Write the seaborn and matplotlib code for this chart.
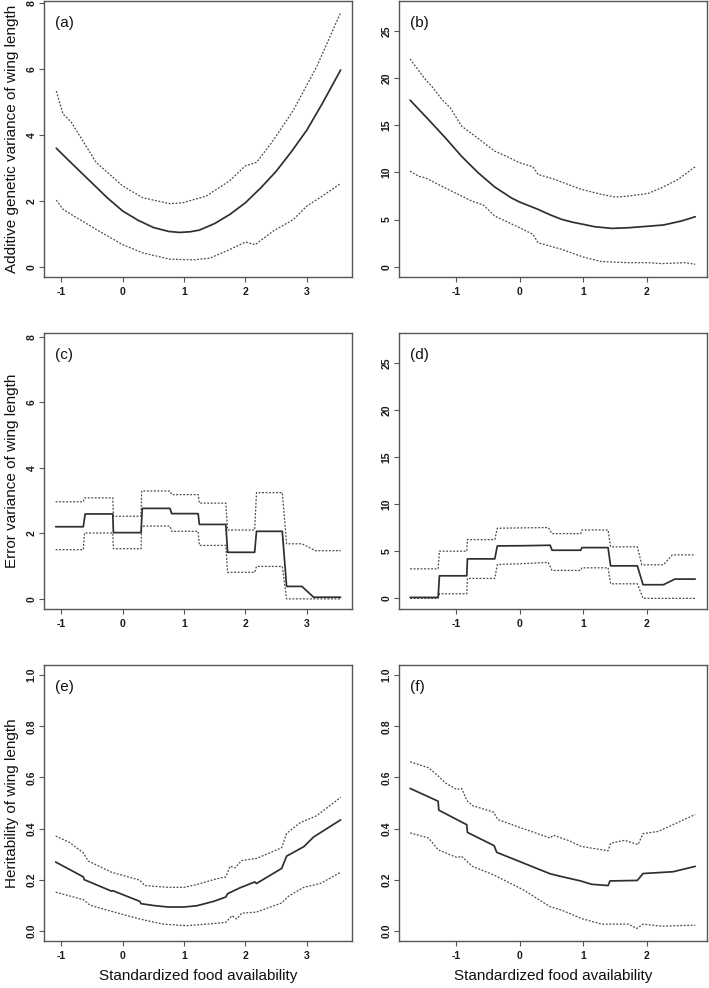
import matplotlib
matplotlib.use("Agg")
import matplotlib.pyplot as plt
import seaborn as sns

# (a) additive genetic variance, population 1
a_x = [-1.08, -0.9, -0.75, -0.5, -0.25, 0.0, 0.25, 0.5, 0.75, 0.93, 1.1, 1.25, 1.5, 1.75, 2.0, 2.25, 2.5, 2.75, 3.0, 3.25, 3.55]
a_mid = [3.6, 3.27, 3.0, 2.55, 2.1, 1.7, 1.42, 1.2, 1.08, 1.05, 1.07, 1.12, 1.32, 1.6, 1.95, 2.4, 2.9, 3.5, 4.15, 4.95, 5.97]
a_up_x = [-1.08, -0.97, -0.84, -0.65, -0.43, 0.0, 0.33, 0.77, 0.98, 1.36, 1.74, 2.0, 2.18, 2.45, 2.78, 3.16, 3.55]
a_up = [5.33, 4.64, 4.4, 3.83, 3.17, 2.46, 2.1, 1.92, 1.95, 2.15, 2.61, 3.07, 3.17, 3.83, 4.75, 6.07, 7.71]
a_lo_x = [-1.08, -0.97, -0.84, -0.43, 0.0, 0.33, 0.77, 1.15, 1.42, 1.74, 2.0, 2.16, 2.45, 2.78, 3.0, 3.21, 3.55]
a_lo = [2.03, 1.75, 1.6, 1.14, 0.68, 0.43, 0.24, 0.22, 0.27, 0.53, 0.76, 0.68, 1.09, 1.44, 1.85, 2.1, 2.53]

# (b) additive genetic variance, population 2
b_x = [-1.72, -1.43, -1.17, -0.91, -0.65, -0.39, -0.13, 0.0, 0.29, 0.48, 0.66, 0.83, 1.0, 1.18, 1.45, 1.71, 2.0, 2.26, 2.54, 2.76]
b_mid = [17.67, 15.6, 13.7, 11.7, 9.96, 8.45, 7.3, 6.86, 6.08, 5.5, 5.02, 4.72, 4.49, 4.24, 4.06, 4.13, 4.28, 4.42, 4.84, 5.3]
b_up_x = [-1.72, -1.64, -1.48, -1.38, -1.22, -1.09, -0.91, -0.65, -0.39, -0.18, 0.0, 0.21, 0.29, 0.55, 0.97, 1.29, 1.5, 1.71, 2.02, 2.23, 2.49, 2.76]
b_up = [22.05, 21.3, 19.86, 19.15, 17.74, 16.86, 14.91, 13.6, 12.26, 11.63, 11.02, 10.6, 9.79, 9.26, 8.2, 7.67, 7.39, 7.49, 7.77, 8.37, 9.26, 10.6]
b_lo_x = [-1.72, -1.59, -1.48, -1.33, -1.07, -0.75, -0.57, -0.39, 0.0, 0.21, 0.29, 0.66, 1.0, 1.29, 1.71, 2.02, 2.23, 2.6, 2.76]
b_lo = [10.14, 9.6, 9.43, 8.9, 8.02, 6.96, 6.54, 5.37, 4.13, 3.43, 2.54, 1.84, 1.02, 0.53, 0.42, 0.42, 0.32, 0.42, 0.25]

# (c) error variance, population 1
c_x = [-1.09, -0.64, -0.61, -0.16, -0.15, 0.30, 0.32, 0.77, 0.80, 1.23, 1.25, 1.68, 1.71, 2.15, 2.18, 2.60, 2.67, 2.92, 3.11, 3.55]
c_mid = [2.20, 2.20, 2.59, 2.59, 2.02, 2.02, 2.76, 2.76, 2.60, 2.60, 2.27, 2.27, 1.42, 1.42, 2.06, 2.06, 0.38, 0.38, 0.05, 0.05]
c_up_x = [-1.09, -0.64, -0.62, -0.16, -0.15, 0.30, 0.31, 0.77, 0.80, 1.23, 1.25, 1.68, 1.71, 2.15, 2.18, 2.60, 2.67, 2.92, 3.14, 3.55]
c_up = [2.96, 2.96, 3.08, 3.08, 2.52, 2.52, 3.29, 3.29, 3.18, 3.18, 2.92, 2.92, 2.10, 2.10, 3.24, 3.24, 1.68, 1.68, 1.47, 1.47]
c_lo_x = [-1.09, -0.64, -0.62, -0.16, -0.15, 0.30, 0.31, 0.77, 0.80, 1.23, 1.25, 1.68, 1.71, 2.15, 2.18, 2.60, 2.67, 3.55]
c_lo = [1.50, 1.50, 2.01, 2.01, 1.53, 1.53, 2.22, 2.22, 2.06, 2.06, 1.63, 1.63, 0.81, 0.81, 0.99, 0.99, 0.0, 0.0]

# (d) error variance, population 2
d_x = [-1.72, -1.28, -1.26, -0.83, -0.82, -0.39, -0.35, 0.06, 0.48, 0.51, 0.96, 0.98, 1.39, 1.43, 1.85, 1.94, 2.26, 2.44, 2.76]
d_mid = [0.10, 0.10, 2.40, 2.40, 4.20, 4.20, 5.58, 5.60, 5.65, 5.12, 5.12, 5.40, 5.40, 3.46, 3.46, 1.45, 1.45, 2.05, 2.05]
d_up_x = [-1.72, -1.28, -1.26, -0.83, -0.82, -0.39, -0.35, 0.06, 0.45, 0.51, 0.96, 0.98, 1.39, 1.43, 1.85, 1.92, 2.26, 2.40, 2.76]
d_up = [3.14, 3.14, 5.02, 5.02, 6.25, 6.25, 7.46, 7.50, 7.53, 6.89, 6.89, 7.28, 7.28, 5.48, 5.48, 3.57, 3.57, 4.63, 4.63]
d_lo_x = [-1.72, -1.28, -1.26, -0.83, -0.82, -0.39, -0.35, 0.06, 0.45, 0.51, 0.96, 0.98, 1.39, 1.43, 1.85, 1.94, 2.76]
d_lo = [0.0, 0.0, 0.49, 0.49, 2.12, 2.12, 3.60, 3.70, 3.82, 2.97, 2.97, 3.25, 3.25, 1.55, 1.55, 0.0, 0.0]

# (e) heritability, population 1
e_x = [-1.09, -0.64, -0.625, -0.18, -0.16, 0.28, 0.30, 0.5, 0.74, 1.0, 1.21, 1.48, 1.68, 1.71, 1.91, 2.15, 2.18, 2.59, 2.67, 2.95, 3.11, 3.55]
e_mid = [0.269, 0.211, 0.200, 0.155, 0.157, 0.115, 0.106, 0.099, 0.093, 0.093, 0.098, 0.115, 0.132, 0.145, 0.168, 0.191, 0.185, 0.244, 0.292, 0.329, 0.367, 0.434]
e_up_x = [-1.09, -0.86, -0.64, -0.56, -0.18, 0.28, 0.36, 0.74, 1.0, 1.21, 1.48, 1.68, 1.75, 1.83, 1.94, 2.18, 2.59, 2.67, 2.89, 3.16, 3.55]
e_up = [0.371, 0.345, 0.305, 0.273, 0.229, 0.198, 0.177, 0.170, 0.170, 0.181, 0.200, 0.211, 0.253, 0.246, 0.275, 0.283, 0.325, 0.381, 0.423, 0.450, 0.522]
e_lo_x = [-1.09, -0.64, -0.53, -0.18, 0.28, 0.66, 1.04, 1.48, 1.68, 1.78, 1.86, 1.94, 2.18, 2.59, 2.70, 2.95, 3.22, 3.55]
e_lo = [0.151, 0.122, 0.100, 0.076, 0.046, 0.026, 0.020, 0.028, 0.033, 0.059, 0.046, 0.069, 0.073, 0.109, 0.135, 0.170, 0.185, 0.229]

# (f) heritability, population 2
f_x = [-1.72, -1.28, -1.27, -0.83, -0.82, -0.40, -0.36, 0.06, 0.48, 0.66, 0.96, 1.13, 1.39, 1.42, 1.85, 1.94, 2.41, 2.76]
f_mid = [0.557, 0.507, 0.472, 0.415, 0.385, 0.333, 0.307, 0.265, 0.223, 0.212, 0.195, 0.182, 0.177, 0.195, 0.197, 0.224, 0.231, 0.252]
f_up_x = [-1.72, -1.43, -1.28, -1.17, -0.99, -0.91, -0.83, -0.74, -0.41, -0.34, 0.03, 0.48, 0.53, 0.76, 0.97, 1.39, 1.43, 1.65, 1.86, 1.94, 2.18, 2.76]
f_up = [0.661, 0.638, 0.606, 0.579, 0.553, 0.557, 0.510, 0.490, 0.464, 0.435, 0.402, 0.363, 0.374, 0.354, 0.330, 0.313, 0.343, 0.354, 0.337, 0.380, 0.389, 0.455]
f_lo_x = [-1.72, -1.43, -1.28, -0.99, -0.91, -0.74, -0.41, 0.06, 0.48, 0.66, 0.97, 1.29, 1.71, 1.84, 1.94, 2.23, 2.76]
f_lo = [0.383, 0.363, 0.317, 0.287, 0.291, 0.252, 0.219, 0.160, 0.094, 0.081, 0.048, 0.026, 0.026, 0.009, 0.026, 0.018, 0.022]

panel_tags = ["(a)", "(b)", "(c)", "(d)", "(e)", "(f)"]
row_ylabels = ["Additive genetic variance of wing length",
               "Error variance of wing length",
               "Heritability of wing length"]
xlabel = "Standardized food availability"

left_xticks = [-1, 0, 1, 2, 3]
right_xticks = [-1, 0, 1, 2]
var_yticks = [0, 2, 4, 6, 8]
var2_yticks = [0, 5, 10, 15, 20, 25]
h2_yticks = [0.0, 0.2, 0.4, 0.6, 0.8, 1.0]
h2_yticklabels = ["0.0", "0.2", "0.4", "0.6", "0.8", "1.0"]

sns.set_style("ticks")
plt.rcParams["font.family"] = ["Liberation Sans", "DejaVu Sans"]
plt.rcParams["axes.unicode_minus"] = False

W, H = 709, 988
fig = plt.figure(figsize=(W / 100, H / 100), dpi=100)

# axes boxes in pixels: (left, top, right, bottom)
col_px = [(44, 352.3), (399, 706.7)]
row_px = [(1, 277), (333.3, 608.7), (665, 941)]

panels = [
    (a_x, a_mid, a_up_x, a_up, a_lo_x, a_lo, (-1.28, 3.74), (-0.3, 8.06), left_xticks, var_yticks, None),
    (b_x, b_mid, b_up_x, b_up, b_lo_x, b_lo, (-1.895, 2.94), (-1.1, 28.2), right_xticks, var2_yticks, None),
    (c_x, c_mid, c_up_x, c_up, c_lo_x, c_lo, (-1.28, 3.74), (-0.3, 8.1), left_xticks, var_yticks, None),
    (d_x, d_mid, d_up_x, d_up, d_lo_x, d_lo, (-1.895, 2.94), (-1.1, 28.2), right_xticks, var2_yticks, None),
    (e_x, e_mid, e_up_x, e_up, e_lo_x, e_lo, (-1.28, 3.74), (-0.04, 1.04), left_xticks, h2_yticks, h2_yticklabels),
    (f_x, f_mid, f_up_x, f_up, f_lo_x, f_lo, (-1.895, 2.94), (-0.04, 1.04), right_xticks, h2_yticks, h2_yticklabels),
]

line_col = "#2f2f2f"
ci_col = "#4a4a4a"
frame_col = "#555555"

for i, (x, mid, ux, up, lx, lo, xlim, ylim, xt, yt, ytl) in enumerate(panels):
    r, c = divmod(i, 2)
    l, rgt = col_px[c]
    t, b = row_px[r]
    ax = fig.add_axes([l / W, 1 - b / H, (rgt - l) / W, (b - t) / H])

    sns.lineplot(x=ux, y=up, ax=ax, sort=False, estimator=None, color=ci_col,
                 linewidth=0.9, linestyle=(0, (1.5, 1.3)))
    sns.lineplot(x=lx, y=lo, ax=ax, sort=False, estimator=None, color=ci_col,
                 linewidth=0.9, linestyle=(0, (1.5, 1.3)))
    sns.lineplot(x=x, y=mid, ax=ax, sort=False, estimator=None, color=line_col,
                 linewidth=1.25)

    ax.set_xlim(*xlim)
    ax.set_ylim(*ylim)
    ax.set_xticks(xt)
    ax.set_xticklabels([str(v) for v in xt])
    ax.set_yticks(yt)
    if ytl is not None:
        ax.set_yticklabels(ytl)
    else:
        ax.set_yticklabels([str(v) for v in yt])

    for s in ax.spines.values():
        s.set_visible(True)
        s.set_color(frame_col)
        s.set_linewidth(1.0)
    ax.tick_params(axis="both", length=3.6, width=0.8, color=frame_col,
                   labelsize=7.5, labelcolor="#1a1a1a")
    ax.tick_params(axis="x", pad=3.6)
    ax.tick_params(axis="y", pad=1.8, labelrotation=90)
    for lab in ax.get_xticklabels() + ax.get_yticklabels():
        lab.set_fontweight("bold")
    for lab in ax.get_yticklabels():
        lab.set_va("center")

    ax.annotate(panel_tags[i], xy=(0, 1), xycoords="axes fraction",
                xytext=(8, -15.5), textcoords="offset points",
                ha="left", va="center", fontsize=11, color="#111111")

    if c == 0:
        ax.set_ylabel(row_ylabels[r], fontsize=11, color="#111111")
        ax.yaxis.set_label_coords((19.5 - 44) / (352.3 - 44), 0.5)
    else:
        ax.set_ylabel("")
    if r == 2:
        ax.set_xlabel(xlabel, fontsize=11, color="#111111")
        ax.xaxis.set_label_coords(0.5, (941 - 969) / (941 - 665))
    else:
        ax.set_xlabel("")

fig.savefig("out.png", dpi=100, facecolor="white")
